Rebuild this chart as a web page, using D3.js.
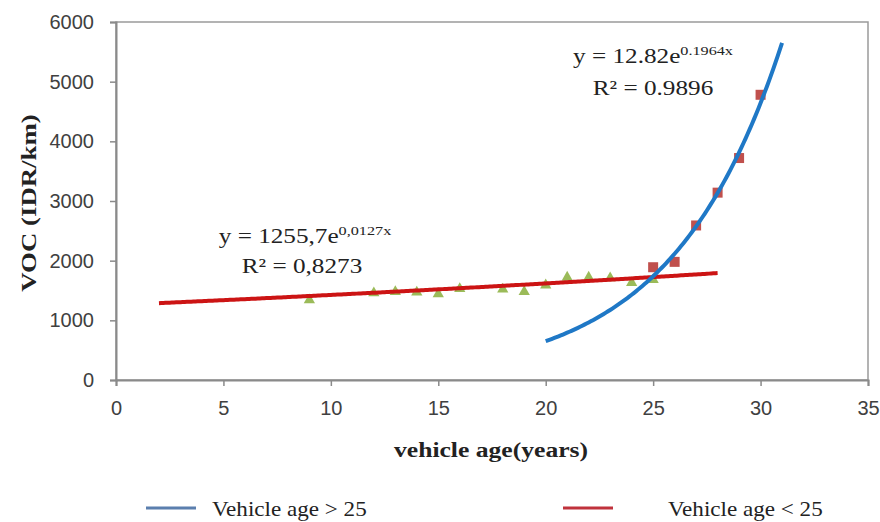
<!DOCTYPE html>
<html>
<head>
<meta charset="utf-8">
<script src="https://cdn.jsdelivr.net/npm/d3@7"></script>
<style>
  html, body { margin: 0; padding: 0; background: #fff; }
  svg { display: block; }
</style>
</head>
<body>
<svg id="chart"></svg>
<script>
// data
const ageBelow = [9, 12, 13, 14, 15, 16, 18, 19, 20, 21, 22, 23, 24, 25];
const vocBelow = [1340, 1460, 1480, 1470, 1440, 1530, 1520, 1480, 1590, 1720, 1720, 1710, 1630, 1680];
const ageAbove = [25, 26, 27, 28, 29, 30];
const vocAbove = [1890, 1980, 2590, 3140, 3720, 4780];

// fitted trend lines as printed on the chart: y = a * e^(b x)
const trendBelow = [1255.7, 0.0127];
const trendBelowRange = [2, 28];
const trendAbove = [12.82, 0.1964];
const trendAboveRange = [20, 31];

const xTicks = [0, 5, 10, 15, 20, 25, 30, 35];
const yTicks = [0, 1000, 2000, 3000, 4000, 5000, 6000];
const legendLabels = ["Vehicle age > 25", "Vehicle age < 25"];

const width = 880;
const height = 522;
const margin = { top: 22, right: 12, bottom: 142, left: 116 };

const svg = d3.select("#chart").attr("width", width).attr("height", height);

const x = d3.scaleLinear().domain([0, 35]).range([margin.left, width - margin.right]);
const y = d3.scaleLinear().domain([0, 6000]).range([height - margin.bottom, margin.top]);

const serif = "'Liberation Serif', 'Times New Roman', serif";
const sans = "'Liberation Sans', Arial, sans-serif";

// text that is a little wider than the font gives
function wideText(x0, y0, size, sx, opts = {}) {
  const g = svg.append("g")
    .attr("transform", `translate(${x0},${y0}) rotate(${opts.rotate || 0}) scale(${sx},1)`);
  return g.append("text")
    .attr("text-anchor", opts.anchor || "middle")
    .attr("font-family", serif)
    .attr("font-size", size)
    .attr("font-weight", opts.weight || "normal")
    .attr("fill", opts.fill || "#222");
}

// plot frame
svg.append("rect")
  .attr("x", x(0)).attr("y", y(6000))
  .attr("width", x(35) - x(0)).attr("height", y(0) - y(6000))
  .attr("fill", "none").attr("stroke", "#9a9a9a").attr("stroke-width", 1.5);

// axes
const xAxis = svg.append("g")
  .attr("transform", `translate(0,${y(0)})`)
  .call(d3.axisBottom(x).tickValues(xTicks).tickSize(6).tickPadding(10));
const yAxis = svg.append("g")
  .attr("transform", `translate(${x(0)},0)`)
  .call(d3.axisLeft(y).tickValues(yTicks).tickFormat(d3.format("d")).tickSize(6).tickPadding(16));

[xAxis, yAxis].forEach((a) => {
  a.select(".domain").attr("stroke", "#8a8a8a").attr("stroke-width", 2);
  a.selectAll(".tick line").attr("stroke", "#8a8a8a").attr("stroke-width", 1.5);
  a.selectAll(".tick text")
    .attr("font-family", sans)
    .attr("font-size", 20)
    .attr("fill", "#404040");
});
xAxis.selectAll(".tick text").attr("dy", "0.95em");

// markers
svg.append("g")
  .selectAll("path")
  .data(ageBelow)
  .enter()
  .append("path")
  .attr("d", d3.symbol().type(d3.symbolTriangle).size(55))
  .attr("transform", (d, i) => `translate(${x(d)},${y(vocBelow[i])})`)
  .attr("fill", "#9bbb59");

svg.append("g")
  .selectAll("rect")
  .data(ageAbove)
  .enter()
  .append("rect")
  .attr("x", (d) => x(d) - 5)
  .attr("y", (d, i) => y(vocAbove[i]) - 5)
  .attr("width", 10)
  .attr("height", 10)
  .attr("fill", "#c0504d");

// trend lines
const line = d3.line().x((d) => x(d[0])).y((d) => y(d[1]));
function trendPoints(coef, range) {
  return d3.range(range[0], range[1] + 0.001, 0.1).map((t) => [t, coef[0] * Math.exp(coef[1] * t)]);
}

svg.append("path")
  .datum(trendPoints(trendBelow, trendBelowRange))
  .attr("d", line)
  .attr("fill", "none")
  .attr("stroke", "#cc1414")
  .attr("stroke-width", 4);

svg.append("path")
  .datum(trendPoints(trendAbove, trendAboveRange))
  .attr("d", line)
  .attr("fill", "none")
  .attr("stroke", "#1f78c6")
  .attr("stroke-width", 4);

// equations
const eqRight = wideText(653, 63, 21, 1.2);
eqRight.append("tspan").text("y = " + trendAbove[0] + "e");
eqRight.append("tspan").attr("dy", -8).attr("font-size", 13.5).text("0.1964x");
wideText(653, 95, 21, 1.2).text("R² = 0.9896");

const eqLeft = wideText(305, 243, 21, 1.2);
eqLeft.append("tspan").text("y = 1255,7e");
eqLeft.append("tspan").attr("dy", -8).attr("font-size", 13.5).text("0,0127x");
wideText(302, 273, 21, 1.2).text("R² = 0,8273");

// axis titles
wideText(491, 457, 21, 1.22, { weight: "bold" }).text("vehicle age(years)");
wideText(36, 203, 22, 1.22, { weight: "bold", rotate: -90 }).text("VOC (IDR/km)");

// legend
const legendColors = ["#5b7fae", "#c0323c"];
const legendLineX = [146, 563];
const legendTextX = [212, 668];
legendLabels.forEach((label, i) => {
  svg.append("line")
    .attr("x1", legendLineX[i]).attr("x2", legendLineX[i] + 50)
    .attr("y1", 508).attr("y2", 508)
    .attr("stroke", legendColors[i]).attr("stroke-width", 3);
  wideText(legendTextX[i], 516, 21, 1.1, { anchor: "start" }).text(label);
});
</script>
</body>
</html>
